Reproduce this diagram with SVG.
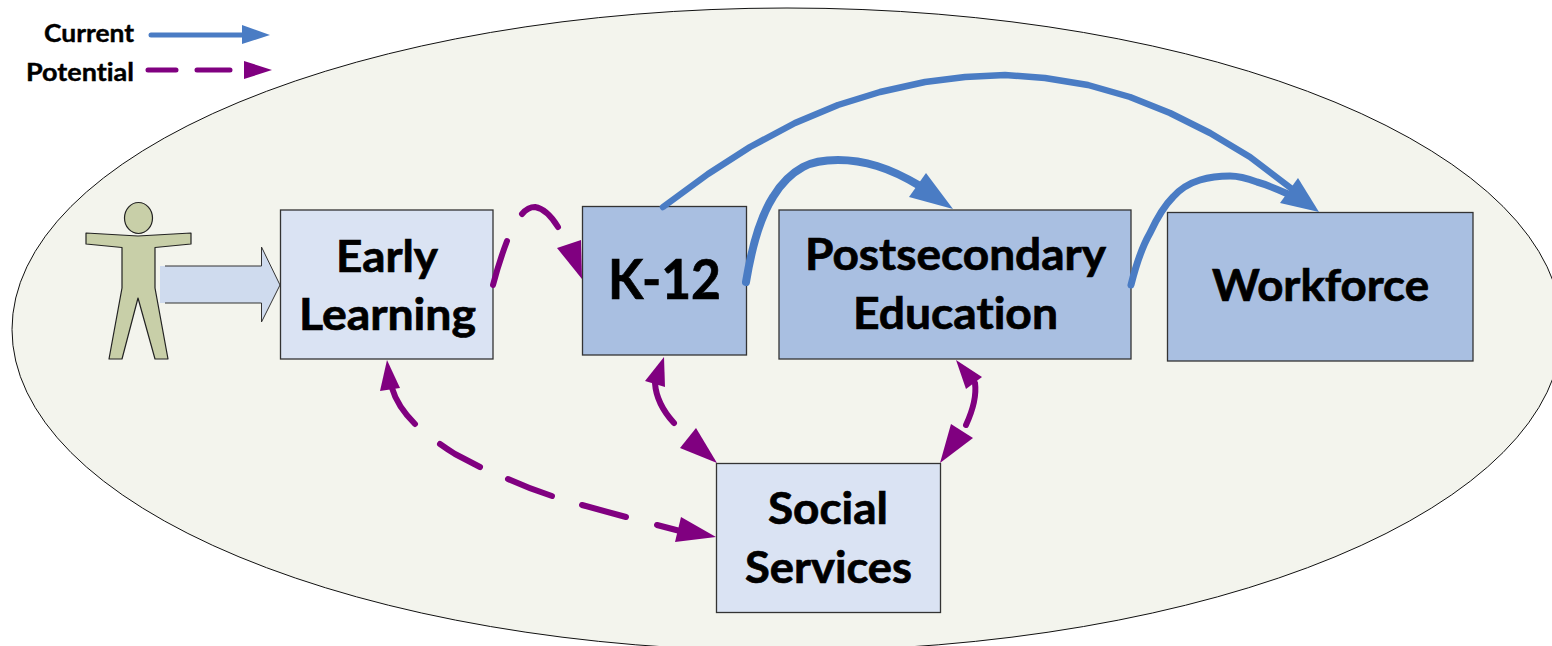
<svg xmlns="http://www.w3.org/2000/svg" width="1552" height="646" viewBox="0 0 1552 646">
<style>
.box{stroke:#333;stroke-width:1.3}
.lt{fill:#dae3f3}
.dk{fill:#a9bfe1}
text{font-family:Lato,Carlito,"Open Sans",sans-serif;font-weight:700;fill:#000;stroke:#000;stroke-width:.7;font-variant-ligatures:none}
.t{font-size:44px}
.l{font-size:25px;stroke-width:.4}
.c{fill:none;stroke:#4a7cc4;stroke-linecap:round;stroke-linejoin:round}
.p{fill:none;stroke:#800080;stroke-width:6px;stroke-linecap:round;stroke-linejoin:round}
.hb{fill:#4a7cc4}
.hp{fill:#800080}
</style>
<rect width="1552" height="646" fill="#fff"/>
<ellipse id="boundary" cx="787" cy="329.500" rx="775" ry="321.500" fill="#f3f4ed" stroke="#111" stroke-width="1"/>
<g id="legend">
<text class="l" x="44" y="42" textLength="90" lengthAdjust="spacingAndGlyphs">Current</text>
<text class="l" x="26" y="81" textLength="108" lengthAdjust="spacingAndGlyphs">Potential</text>
</g>
<g id="person">
<ellipse cx="138.500" cy="218" rx="14" ry="15.500" fill="#c8cfa8" stroke="#222" stroke-width="1.200"/>
<path d="M86 233L138 236L191 233V244L155 247.500V288L168 359H155L138 298L122 359H109L122 288V247.500L86 244Z" fill="#c8cfa8" stroke="#222" stroke-width="1.200" stroke-linejoin="round"/>
</g>
<g id="entry-arrow">
<path d="M160 266H261.500V247L280 285L261.500 322V303H160Z" fill="#cfdbee"/>
<path d="M165 266H261.500V247L280 285L261.500 322V303H165" fill="none" stroke="#333" stroke-width="1"/>
</g>
<g id="early-learning">
<rect class="box lt" x="280.500" y="210" width="212.500" height="149"/>
<text class="t" x="336" y="272" textLength="102" lengthAdjust="spacingAndGlyphs">Early</text>
<text class="t" x="299" y="330" textLength="177" lengthAdjust="spacingAndGlyphs">Learning</text>
</g>
<g id="k-12">
<rect class="box dk" x="582.500" y="206.500" width="164" height="148.500"/>
<text x="608" y="299" font-size="55" textLength="113" lengthAdjust="spacingAndGlyphs">K-12</text>
</g>
<g id="postsecondary-education">
<rect class="box dk" x="779" y="210" width="352" height="149"/>
<text class="t" x="805" y="270" textLength="301" lengthAdjust="spacingAndGlyphs">Postsecondary</text>
<text class="t" x="853" y="329" textLength="205" lengthAdjust="spacingAndGlyphs">Education</text>
</g>
<g id="workforce">
<rect class="box dk" x="1167.500" y="212.500" width="305.500" height="148.500"/>
<text class="t" x="1212" y="301" textLength="217" lengthAdjust="spacingAndGlyphs">Workforce</text>
</g>
<g id="social-services">
<rect class="box lt" x="716.500" y="463.500" width="224" height="149"/>
<text class="t" x="768" y="524" textLength="120" lengthAdjust="spacingAndGlyphs">Social</text>
<text class="t" x="745" y="583" textLength="167" lengthAdjust="spacingAndGlyphs">Services</text>
</g>
<g id="connectors">
<path class="c" stroke-width="5" d="M151 35H243"/>
<polygon class="hb" points="242,25 270,35 242,44"/>
<path class="p" style="stroke-width:5px" d="M148 70H176M197 70H230"/>
<polygon class="hp" points="244,61 272,70 244,79"/>
<path class="c" stroke-width="6.500" d="M663 207L708 174L750 147L795 123L838 105L880 92L925 82L965 77L1005 75L1045 78L1088 85L1130 97L1170 113L1210 133L1250 157L1292 189"/>
<path class="c" stroke-width="8" d="M746 282C750 258 757 222 773 197C782 182 792 173 803 167C814 161 826 160 838 160C852 160 864 162 877 166C890 170 905 177 920 186"/>
<polygon class="hb" points="953,209 926,173 909,197"/>
<path class="c" stroke-width="7" d="M1131 285C1136 265 1142 247 1150 233C1157 218 1164 206 1173 197C1181 188 1190 183 1200 180C1210 177 1220 176 1230 176C1240 176 1249 179 1257 182C1268 185 1277 189 1288 194"/>
<polygon class="hb" points="1319,212 1298,178 1280,203"/>
<path class="p" d="M493 285Q499 262 507 241M522 214Q528 207 535 207Q547 209 558 227"/>
<polygon class="hp" points="581,240 557,248 582,279"/>
<path class="p" d="M392 388C396 402 404 413 415 424M440 444Q447 449 455 454L480 467M508 479Q530 489 552 496M582 505L626 517M657 525L680 531"/>
<polygon class="hp" points="387,360 380,391 400,388"/>
<polygon class="hp" points="716,537 681,517 675,542"/>
<path class="p" d="M655 383C656 398 663 411 674 423"/>
<polygon class="hp" points="664,357 645,381 665,387"/>
<polygon class="hp" points="717,463 696,428 680,448"/>
<path class="p" d="M975 383C977 398 972 412 966 425"/>
<polygon class="hp" points="956,360 982,377 966,389"/>
<polygon class="hp" points="940,463 951,424 973,438"/>
</g>
</svg>
